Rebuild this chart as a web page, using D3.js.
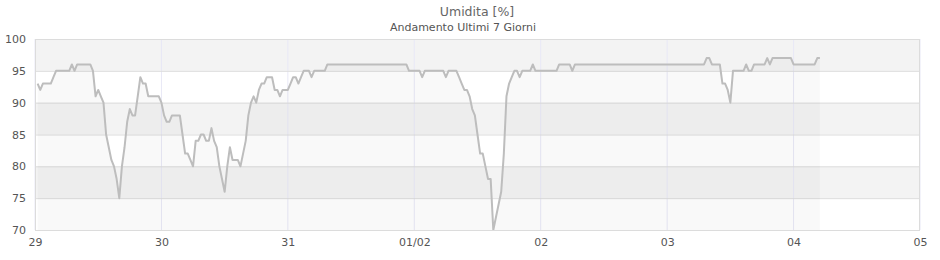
<!DOCTYPE html>
<html>
<head>
<meta charset="utf-8">
<script src="https://cdn.jsdelivr.net/npm/d3@7"></script>
<style>
  body { margin: 0; background: #fff; }
  svg { display: block; font-family: "DejaVu Sans", sans-serif; }
</style>
</head>
<body>
<svg id="chart" width="940" height="260"></svg>
<script>
// humidity readings, one every 30 minutes starting 29/01 00:30
const startTime = new Date(2024, 0, 29, 0, 30);
const stepMinutes = 30;
const humidity = [
  93, 92, 93, 93, 93, 93, 94, 95, 95, 95, 95, 95, 95, 96, 95, 96, 96, 96, 96, 96,
  96, 95, 91, 92, 91, 90, 85, 83, 81, 80, 78, 75, 80, 83, 87, 89, 88, 88, 91, 94,
  93, 93, 91, 91, 91, 91, 91, 90, 88, 87, 87, 88, 88, 88, 88, 85, 82, 82, 81, 80,
  84, 84, 85, 85, 84, 84, 86, 84, 83, 80, 78, 76, 80, 83, 81, 81, 81, 80, 82, 84,
  88, 90, 91, 90, 92, 93, 93, 94, 94, 94, 92, 92, 91, 92, 92, 92, 93, 94, 94, 93,
  94, 95, 95, 95, 94, 95, 95, 95, 95, 95, 96, 96, 96, 96, 96, 96, 96, 96, 96, 96,
  96, 96, 96, 96, 96, 96, 96, 96, 96, 96, 96, 96, 96, 96, 96, 96, 96, 96, 96, 96,
  96, 95, 95, 95, 95, 95, 94, 95, 95, 95, 95, 95, 95, 95, 95, 94, 95, 95, 95, 95,
  94, 93, 92, 92, 91, 89, 88, 85, 82, 82, 80, 78, 78, 70, 72, 74, 76, 82, 91, 93,
  94, 95, 95, 94, 95, 95, 95, 95, 96, 95, 95, 95, 95, 95, 95, 95, 95, 95, 96, 96,
  96, 96, 96, 95, 96, 96, 96, 96, 96, 96, 96, 96, 96, 96, 96, 96, 96, 96, 96, 96,
  96, 96, 96, 96, 96, 96, 96, 96, 96, 96, 96, 96, 96, 96, 96, 96, 96, 96, 96, 96,
  96, 96, 96, 96, 96, 96, 96, 96, 96, 96, 96, 96, 96, 96, 97, 97, 96, 96, 96, 96,
  93, 93, 92, 90, 95, 95, 95, 95, 95, 96, 95, 95, 96, 96, 96, 96, 96, 97, 96, 97,
  97, 97, 97, 97, 97, 97, 97, 96, 96, 96, 96, 96, 96, 96, 96, 96, 97, 97
];
const yTicks = [70, 75, 80, 85, 90, 95, 100];
const bandRanges = [[95, 100], [85, 90], [75, 80]];
const titleText = "Umidita [%]";
const subtitleText = "Andamento Ultimi 7 Giorni";

const data = humidity.map((v, i) => ({
  t: new Date(startTime.getTime() + i * stepMinutes * 60000),
  v: v
}));

const svg = d3.select("#chart");
const margin = { left: 35, right: 20, top: 39, bottom: 30 };
const width = 940, height = 260;

const x = d3.scaleTime()
  .domain([new Date(2024, 0, 29), new Date(2024, 1, 5)])
  .range([margin.left, width - margin.right]);
const y = d3.scaleLinear()
  .domain([70, 100])
  .range([height - margin.bottom, margin.top]);

// background bands
svg.append("g").selectAll("rect")
  .data(bandRanges)
  .enter().append("rect")
  .attr("x", margin.left)
  .attr("width", width - margin.right - margin.left)
  .attr("y", d => y(d[1]))
  .attr("height", d => y(d[0]) - y(d[1]))
  .attr("fill", "#f3f3f3");

// vertical day grid
const days = x.ticks(d3.timeDay.every(1));
svg.append("g").selectAll("line")
  .data(days)
  .enter().append("line")
  .attr("x1", d => x(d)).attr("x2", d => x(d))
  .attr("y1", margin.top).attr("y2", height - margin.bottom)
  .attr("stroke", "#e8e8f6");

// horizontal grid
svg.append("g").selectAll("line")
  .data(yTicks)
  .enter().append("line")
  .attr("x1", margin.left).attr("x2", width - margin.right)
  .attr("y1", d => y(d) + 0.5).attr("y2", d => y(d) + 0.5)
  .attr("stroke", "#dcdcdc");

// area under the line
const area = d3.area()
  .x(d => x(d.t))
  .y0(y(70))
  .y1(d => y(d.v));
svg.append("path")
  .datum(data)
  .attr("d", area)
  .attr("fill", "rgba(0,0,0,0.025)");

const line = d3.line()
  .x(d => x(d.t))
  .y(d => y(d.v));
svg.append("path")
  .datum(data)
  .attr("d", line)
  .attr("fill", "none")
  .attr("stroke", "#bdbdbd")
  .attr("stroke-width", 2)
  .attr("stroke-linejoin", "round");

// plot frame
svg.append("rect")
  .attr("x", margin.left + 0.5)
  .attr("y", margin.top + 0.5)
  .attr("width", width - margin.right - margin.left - 1)
  .attr("height", height - margin.bottom - margin.top)
  .attr("fill", "none")
  .attr("stroke", "#dcdcdc");

// y axis labels
const yAxis = d3.axisLeft(y).tickValues(yTicks).tickSize(0).tickPadding(9);
svg.append("g")
  .attr("transform", `translate(${margin.left},0)`)
  .call(yAxis)
  .call(g => g.select(".domain").remove())
  .call(g => g.selectAll("text").attr("fill", "#555").attr("font-size", 11)
    .attr("font-family", "DejaVu Sans"));

// x axis labels
const fmtDay = d => d.getDate() === 1 ? d3.timeFormat("%d/%m")(d) : d3.timeFormat("%d")(d);
const xAxis = d3.axisBottom(x).tickValues(days).tickFormat(fmtDay).tickSize(0).tickPadding(8);
svg.append("g")
  .attr("transform", `translate(0,${height - margin.bottom})`)
  .call(xAxis)
  .call(g => g.select(".domain").remove())
  .call(g => g.selectAll("text").attr("fill", "#555").attr("font-size", 11)
    .attr("font-family", "DejaVu Sans"));

// titles
svg.append("text")
  .attr("x", 477).attr("y", 16)
  .attr("text-anchor", "middle")
  .attr("font-size", 12.5)
  .attr("fill", "#666")
  .text(titleText);
svg.append("text")
  .attr("x", 463).attr("y", 31)
  .attr("text-anchor", "middle")
  .attr("font-size", 11)
  .attr("fill", "#555")
  .text(subtitleText);
</script>
</body>
</html>
